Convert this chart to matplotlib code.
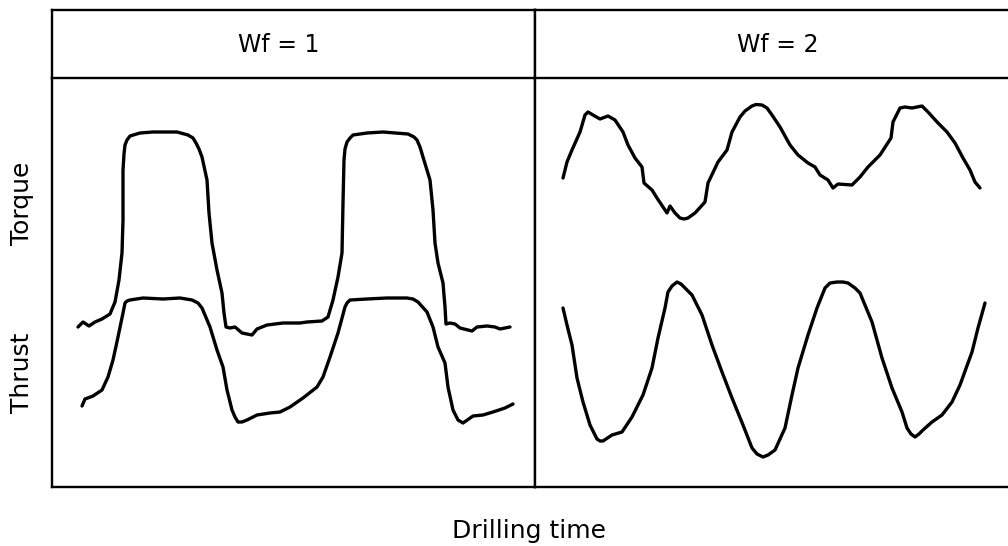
import matplotlib
matplotlib.use("Agg")
import matplotlib.pyplot as plt

# ---- data (arbitrary units: time along panel, signal height) ----
panel_titles = ["Wf = 1", "Wf = 2"]
y_labels = ["Torque", "Thrust"]
x_label = "Drilling time"

# Wf = 1, torque
t_torque_1 = [26, 31, 37, 43, 50, 58, 63, 67, 70, 71, 71, 72, 73, 75, 78, 88, 101, 125, 136, 141, 144,
              147, 150, 155, 157, 160, 165, 170, 172, 174, 178, 183, 190, 200, 205, 215, 231, 248, 255,
              270, 276, 281, 286, 290, 291, 292, 293, 295, 298, 301, 315, 331, 356, 362, 365, 368, 371,
              378, 381, 383, 386, 391, 393, 394, 398, 403, 408, 420, 425, 435, 443, 448, 458]
s_torque_1 = [160, 165, 161, 165, 168, 173, 185, 207, 234, 267, 317, 333, 342, 347, 351, 354, 355, 355,
              352, 349, 344, 338, 330, 307, 274, 244, 217, 194, 174, 160, 159, 160, 154, 152, 158, 162,
              164, 164, 165, 166, 170, 187, 210, 234, 284, 327, 338, 345, 349, 352, 354, 355, 353, 350,
              347, 340, 330, 307, 277, 244, 224, 204, 180, 163, 164, 163, 159, 156, 160, 161, 160, 158,
              160]

# Wf = 1, thrust
t_thrust_1 = [30, 33, 41, 50, 56, 61, 66, 71, 73, 75, 78, 91, 111, 128, 140, 146, 150, 158, 165, 171,
              175, 180, 183, 186, 190, 195, 205, 218, 228, 238, 251, 265, 271, 278, 286, 293, 295, 298,
              315, 335, 355, 361, 366, 375, 381, 386, 393, 396, 401, 406, 411, 421, 431, 441, 453, 461]
s_thrust_1 = [81, 88, 91, 97, 110, 127, 150, 174, 184, 186, 187, 189, 188, 189, 187, 184, 179, 160, 137,
              120, 97, 77, 70, 65, 65, 67, 72, 74, 75, 80, 89, 100, 110, 130, 154, 180, 184, 187, 188,
              189, 189, 188, 185, 175, 160, 140, 124, 100, 77, 67, 64, 71, 72, 75, 79, 83]

# Wf = 2, torque
t_torque_2 = [28, 32, 37, 45, 50, 53, 58, 65, 73, 80, 88, 93, 100, 107, 109, 117, 122, 130, 132, 135,
              140, 145, 149, 153, 160, 170, 173, 183, 192, 197, 205, 210, 217, 221, 227, 232, 237, 245,
              255, 263, 273, 280, 285, 293, 298, 303, 317, 325, 333, 345, 356, 358, 365, 370, 377, 387,
              393, 403, 412, 420, 428, 435, 440, 445]
s_torque_2 = [309, 325, 337, 355, 372, 375, 372, 368, 371, 367, 355, 342, 329, 320, 304, 297, 289, 277,
              274, 281, 274, 269, 268, 269, 274, 285, 304, 325, 337, 355, 370, 376, 381, 382.5, 382, 379,
              372, 360, 342, 332, 324, 320, 312, 307, 299, 303, 302, 310, 320, 332, 349, 365, 379, 380,
              379, 381, 375, 364, 355, 344, 329, 317, 305, 299]

# Wf = 2, thrust
t_thrust_2 = [28, 32, 37, 42, 48, 55, 59, 62, 65, 68, 77, 87, 97, 108, 117, 123, 130, 133, 137, 142, 146,
              150, 157, 167, 177, 187, 197, 208, 217, 222, 228, 233, 240, 250, 257, 263, 273, 282, 290,
              295, 302, 308, 313, 320, 325, 337, 347, 357, 367, 372, 376, 380, 384, 388, 397, 407, 417,
              425, 437, 443, 450]
s_thrust_2 = [179, 162, 142, 109, 85, 62, 54, 48, 46, 46, 52, 55, 70, 92, 119, 149, 179, 195, 201, 205,
              203, 199, 192, 172, 142, 115, 89, 62, 39, 33, 30, 32, 37, 59, 92, 119, 152, 179, 199, 204,
              205, 205, 204, 199, 194, 165, 129, 99, 75, 59, 53, 50, 53, 57, 65, 72, 85, 102, 135, 159,
              184]

# ---- figure ----
W, H = 1008, 546
fig = plt.figure(figsize=(W / 100, H / 100), dpi=100)
plt.rcParams['font.family'] = ['DejaVu Sans']

def fx(px):
    return px / W

def fy(py):
    return 1 - py / H

x_left, x_mid, x_right = 52, 535, 1008
y_top, y_head, y_bot = 10, 78, 487
spine_lw = 1.7
line_lw = 2.4

panel_specs = [
    (x_left, x_mid, 483, (t_torque_1, s_torque_1), (t_thrust_1, s_thrust_1), True),
    (x_mid, x_right, 473, (t_torque_2, s_torque_2), (t_thrust_2, s_thrust_2), False),
]

for i, (xa, xb, tmax, torque, thrust, has_right) in enumerate(panel_specs):
    ax = fig.add_axes([fx(xa), fy(y_bot), fx(xb - xa), (y_bot - y_head) / H])
    ax.plot(torque[0], torque[1], color="black", lw=line_lw, solid_capstyle="round",
            solid_joinstyle="round")
    ax.plot(thrust[0], thrust[1], color="black", lw=line_lw, solid_capstyle="round",
            solid_joinstyle="round")
    ax.set_xlim(0, tmax)
    ax.set_ylim(0, 409)
    ax.set_xticks([])
    ax.set_yticks([])
    for sp in ax.spines.values():
        sp.set_linewidth(spine_lw)
    ax.spines["top"].set_visible(False)
    ax.spines["right"].set_visible(has_right)

    hx = fig.add_axes([fx(xa), fy(y_head), fx(xb - xa), (y_head - y_top) / H])
    hx.set_xticks([])
    hx.set_yticks([])
    for sp in hx.spines.values():
        sp.set_linewidth(spine_lw)
    hx.spines["right"].set_visible(has_right)

    cx = [279, 778][i]
    fig.text(fx(cx), fy(45), panel_titles[i], ha="center", va="center",
             fontsize=17, color="black")

fig.text(fx(22), fy(203), y_labels[0], rotation=90, ha="center", va="center",
         fontsize=18, color="black")
fig.text(fx(22), fy(373), y_labels[1], rotation=90, ha="center", va="center",
         fontsize=18, color="black")
fig.text(fx(529), fy(531), x_label, ha="center", va="center", fontsize=18, color="black")

fig.savefig("out.png", dpi=100, facecolor="white")
